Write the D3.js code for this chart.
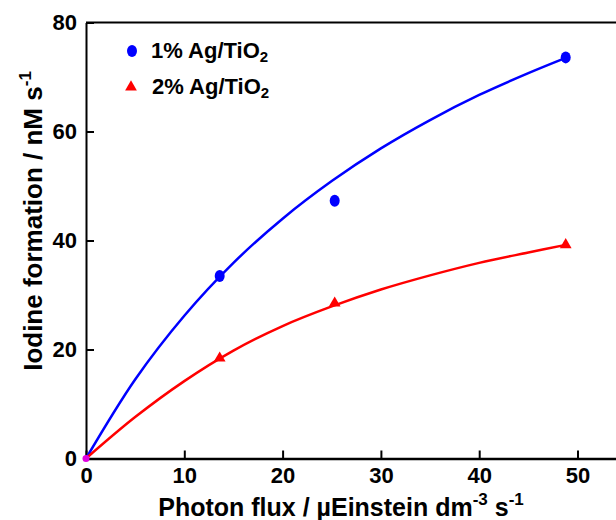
<!DOCTYPE html>
<html>
<head>
<meta charset="utf-8">
<script src="https://cdn.jsdelivr.net/npm/d3@7"></script>
<style>
  body { margin: 0; background: #fff; }
  text { font-family: "Liberation Sans", Arial, sans-serif; font-weight: bold; fill: #000; }
</style>
</head>
<body>
<div id="chart"></div>
<script>
// measured points
const fluxPoints = [0, 13.6, 25.3, 48.8];
const ag1Points = [0, 33.5, 47.3, 73.6];
const ag2Points = [0, 18.4, 28.5, 39.2];

// fitted curves
const curveFlux = [0, 5, 10, 15, 20, 25, 30, 35, 40, 45, 48.8];
const ag1Curve = [0, 14.5, 26.2, 35.9, 44.0, 50.9, 56.9, 62.1, 66.7, 70.7, 73.5];
const ag2Curve = [0, 7.6, 14.2, 19.8, 24.3, 27.9, 31.0, 33.6, 35.9, 37.8, 39.2];

const xTicks = [0, 10, 20, 30, 40, 50];
const yTicks = [0, 20, 40, 60, 80];

const width = 616, height = 520;
const margin = {top: 22.5, left: 86, bottom: 61.5};

const svg = d3.select("#chart").append("svg")
    .attr("width", width)
    .attr("height", height);

const x = d3.scaleLinear().domain([0, 55]).range([margin.left, margin.left + 55 * 9.83]);
const y = d3.scaleLinear().domain([0, 80]).range([height - margin.bottom, margin.top]);

// frame top line
svg.append("line")
    .attr("x1", x(0)).attr("x2", width + 10)
    .attr("y1", y(80)).attr("y2", y(80))
    .attr("stroke", "#000").attr("stroke-width", 2);

// x axis
const xAxis = svg.append("g")
    .attr("transform", `translate(0,${y(0)})`)
    .call(d3.axisBottom(x).tickValues(xTicks).tickSizeInner(-8).tickSizeOuter(0).tickPadding(5));
xAxis.select(".domain").attr("stroke-width", 2.5);
xAxis.selectAll(".tick line").attr("stroke-width", 2);
xAxis.selectAll(".tick text").attr("font-size", 22).attr("font-family", null).attr("dy", "0.9em");

// y axis
const yAxis = svg.append("g")
    .attr("transform", `translate(${x(0)},0)`)
    .call(d3.axisLeft(y).tickValues(yTicks).tickSizeInner(-8).tickSizeOuter(0).tickPadding(9));
yAxis.select(".domain").attr("stroke-width", 2);
yAxis.selectAll(".tick line").attr("stroke-width", 2);
yAxis.selectAll(".tick text").attr("font-size", 22).attr("font-family", null);

// curves
const line = d3.line()
    .x((d, i) => x(curveFlux[i]))
    .y(d => y(d))
    .curve(d3.curveCatmullRom);

svg.append("path").datum(ag1Curve)
    .attr("d", line).attr("fill", "none")
    .attr("stroke", "#0000ff").attr("stroke-width", 2.5);
svg.append("path").datum(ag2Curve)
    .attr("d", line).attr("fill", "none")
    .attr("stroke", "#ff0000").attr("stroke-width", 2.5);

// markers
const tri = d3.symbol().type(d3.symbolTriangle).size(60);

svg.selectAll(".ag1").data(ag1Points.slice(1))
    .join("ellipse")
    .attr("cx", (d, i) => x(fluxPoints[i + 1]))
    .attr("cy", d => y(d))
    .attr("rx", 5).attr("ry", 6)
    .attr("fill", "#0000ff");

svg.selectAll(".ag2").data(ag2Points.slice(1))
    .join("path")
    .attr("d", tri)
    .attr("transform", (d, i) => `translate(${x(fluxPoints[i + 1])},${y(d)})`)
    .attr("fill", "#ff0000");

// origin point where both series overlap
svg.append("circle")
    .attr("cx", x(fluxPoints[0])).attr("cy", y(ag1Points[0]))
    .attr("r", 3.5).attr("fill", "#e000e0");

// legend
const legend = svg.append("g");
legend.append("ellipse")
    .attr("cx", 132).attr("cy", 51).attr("rx", 5).attr("ry", 6)
    .attr("fill", "#0000ff");
legend.append("path")
    .attr("d", tri).attr("transform", "translate(131,87)")
    .attr("fill", "#ff0000");

const l1 = legend.append("text").attr("x", 151).attr("y", 58).attr("font-size", 22);
l1.append("tspan").text("1% Ag/TiO");
l1.append("tspan").attr("font-size", 15).attr("dy", 4).text("2");

const l2 = legend.append("text").attr("x", 152).attr("y", 94).attr("font-size", 22);
l2.append("tspan").text("2% Ag/TiO");
l2.append("tspan").attr("font-size", 15).attr("dy", 4).text("2");

// axis titles
const xt = svg.append("text")
    .attr("x", 341).attr("y", 516)
    .attr("text-anchor", "middle").attr("font-size", 25);
xt.append("tspan").text("Photon flux / µEinstein dm");
xt.append("tspan").attr("font-size", 17).attr("dy", -11).text("-3");
xt.append("tspan").attr("dy", 11).text(" s");
xt.append("tspan").attr("font-size", 17).attr("dy", -11).text("-1");

const yt = svg.append("text")
    .attr("transform", "translate(42,221) rotate(-90)")
    .attr("text-anchor", "middle").attr("font-size", 26);
yt.append("tspan").text("Iodine formation / nM s");
yt.append("tspan").attr("font-size", 17).attr("dy", -11).text("-1");
</script>
</body>
</html>
